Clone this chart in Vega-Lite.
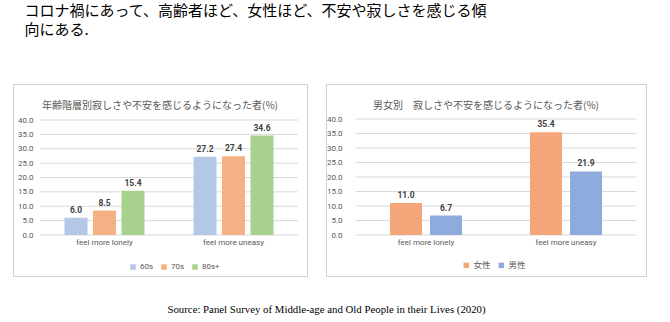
{
  "$schema": "https://vega.github.io/schema/vega-lite/v6.json",
  "background": "white",
  "padding": {"left": 12, "top": 3, "right": 0, "bottom": 0},
  "title": {
    "text": ["コロナ禍にあって、高齢者ほど、女性ほど、不安や寂しさを感じる傾", "向にある."],
    "anchor": "start", "dx": 12, "fontSize": 15, "lineHeight": 19,
    "font": "Noto Sans CJK JP", "fontWeight": "normal", "color": "#000000", "offset": 46
  },
  "config": {
    "view": {"stroke": "#d0d0d0"},
    "font": "Roboto"
  },
  "vconcat": [
    {
      "title": {
        "text": "Source: Panel Survey of Middle-age  and Old People in their Lives (2020)",
        "orient": "bottom", "anchor": "middle", "font": "Liberation Serif",
        "fontSize": 10.8, "fontWeight": "normal", "color": "#000000", "offset": 27, "dx": -3
      },
      "spacing": 17,
      "resolve": {"scale": {"color": "independent", "x": "independent", "y": "independent", "xOffset": "independent"}, "legend": {"color": "independent"}},
      "hconcat": [
        {
          "width": 294,
          "height": 192,
          "view": {"stroke": "#d0d0d0"},
          "title": {
            "text": "年齢階層別寂しさや不安を感じるようになった者(%)",
            "offset": -27, "fontSize": 10, "color": "#595959",
            "font": "Noto Sans CJK JP", "fontWeight": "normal", "anchor": "middle"
          },
          "layer": [
            {
              "data": {"values": [{"v": 0}, {"v": 5}, {"v": 10}, {"v": 15}, {"v": 20}, {"v": 25}, {"v": 30}, {"v": 35}, {"v": 40}]},
              "mark": {"type": "rule", "color": "#d9d9d9", "strokeWidth": 1},
              "encoding": {
                "y": {"field": "v", "type": "quantitative",
                  "scale": {"domain": [0, 40], "range": [151, 36], "nice": false, "zero": true},
                  "axis": {"values": [0, 5, 10, 15, 20, 25, 30, 35, 40], "format": ".1f", "offset": -20,
                    "domain": false, "ticks": false, "tickSize": 0, "grid": false, "labelPadding": 0,
                    "labelOverlap": false, "labelFontSize": 8, "labelColor": "#595959", "title": null}},
                "x": {"datum": "feel more lonely", "type": "nominal", "bandPosition": 0},
                "x2": {"datum": "feel more uneasy", "bandPosition": 1}
              }
            },
            {
              "data": {"values": [
                {"cat": "feel more lonely", "age": "60s", "v": 6.0},
                {"cat": "feel more lonely", "age": "70s", "v": 8.5},
                {"cat": "feel more lonely", "age": "80s+", "v": 15.4},
                {"cat": "feel more uneasy", "age": "60s", "v": 27.2},
                {"cat": "feel more uneasy", "age": "70s", "v": 27.4},
                {"cat": "feel more uneasy", "age": "80s+", "v": 34.6}
              ]},
              "encoding": {
                "x": {"field": "cat", "type": "nominal",
                  "scale": {"domain": ["feel more lonely", "feel more uneasy"], "paddingInner": 0, "paddingOuter": 0.1395, "align": 0.75},
                  "axis": {"title": null, "domain": false, "ticks": false, "tickSize": 0, "labelPadding": 0, "offset": -34,
                    "bandPosition": 0.5, "labelAlign": "center",
                    "labelAngle": 0, "labelFontSize": 8, "labelColor": "#595959"}},
                "xOffset": {"field": "age", "type": "nominal", "sort": ["60s", "70s", "80s+"],
                  "scale": {"paddingInner": 0.193, "paddingOuter": 0.86}},
                "y": {"field": "v", "type": "quantitative", "stack": null,
                  "axis": {"values": [0, 5, 10, 15, 20, 25, 30, 35, 40], "format": ".1f", "offset": -20,
                    "domain": false, "ticks": false, "tickSize": 0, "grid": false, "labelPadding": 0,
                    "labelOverlap": false, "labelFontSize": 8, "labelColor": "#595959", "title": null}}
              },
              "layer": [
                {
                  "mark": {"type": "bar"},
                  "encoding": {
                    "color": {"field": "age", "type": "nominal", "sort": ["60s", "70s", "80s+"],
                      "scale": {"domain": ["60s", "70s", "80s+"], "range": ["#b4c7e7", "#f4b183", "#a9d18e"]},
                      "legend": {"orient": "none", "legendX": 116, "legendY": 179, "direction": "horizontal",
                        "title": null, "symbolType": "square", "symbolSize": 30, "symbolStrokeWidth": 0,
                        "labelFontSize": 8, "labelColor": "#595959", "columnPadding": 6, "labelOffset": 3}}
                  }
                },
                {
                  "mark": {"type": "text", "baseline": "bottom", "dy": -3, "fontSize": 8.5, "fontWeight": "bold", "color": "#404040"},
                  "encoding": {"text": {"field": "v", "type": "quantitative", "format": ".1f"}}
                }
              ]
            }
          ]
        },
        {
          "width": 320,
          "height": 192,
          "view": {"stroke": "#d0d0d0"},
          "title": {
            "text": "男女別　寂しさや不安を感じるようになった者(%)",
            "offset": -27, "fontSize": 10, "color": "#595959",
            "font": "Noto Sans CJK JP", "fontWeight": "normal", "anchor": "middle"
          },
          "layer": [
            {
              "data": {"values": [{"v": 0}, {"v": 5}, {"v": 10}, {"v": 15}, {"v": 20}, {"v": 25}, {"v": 30}, {"v": 35}, {"v": 40}]},
              "mark": {"type": "rule", "color": "#d9d9d9", "strokeWidth": 1},
              "encoding": {
                "y": {"field": "v", "type": "quantitative",
                  "scale": {"domain": [0, 40], "range": [151, 35], "nice": false, "zero": true},
                  "axis": {"values": [0, 5, 10, 15, 20, 25, 30, 35, 40], "format": ".1f", "offset": -16,
                    "domain": false, "ticks": false, "tickSize": 0, "grid": false, "labelPadding": 0,
                    "labelOverlap": false, "labelFontSize": 8, "labelColor": "#595959", "title": null}},
                "x": {"datum": "feel more lonely", "type": "nominal", "bandPosition": 0},
                "x2": {"datum": "feel more uneasy", "bandPosition": 1}
              }
            },
            {
              "data": {"values": [
                {"cat": "feel more lonely", "sex": "女性", "v": 11.0},
                {"cat": "feel more lonely", "sex": "男性", "v": 6.7},
                {"cat": "feel more uneasy", "sex": "女性", "v": 35.4},
                {"cat": "feel more uneasy", "sex": "男性", "v": 21.9}
              ]},
              "encoding": {
                "x": {"field": "cat", "type": "nominal",
                  "scale": {"domain": ["feel more lonely", "feel more uneasy"], "paddingInner": 0, "paddingOuter": 0.1429, "align": 0.75},
                  "axis": {"title": null, "domain": false, "ticks": false, "tickSize": 0, "labelPadding": 0, "offset": -34,
                    "bandPosition": 0.5, "labelAlign": "center",
                    "labelAngle": 0, "labelFontSize": 8, "labelColor": "#595959"}},
                "xOffset": {"field": "sex", "type": "nominal", "sort": ["女性", "男性"],
                  "scale": {"paddingInner": 0.2, "paddingOuter": 0.85}},
                "y": {"field": "v", "type": "quantitative", "stack": null,
                  "axis": {"values": [0, 5, 10, 15, 20, 25, 30, 35, 40], "format": ".1f", "offset": -16,
                    "domain": false, "ticks": false, "tickSize": 0, "grid": false, "labelPadding": 0,
                    "labelOverlap": false, "labelFontSize": 8, "labelColor": "#595959", "title": null}}
              },
              "layer": [
                {
                  "mark": {"type": "bar"},
                  "encoding": {
                    "color": {"field": "sex", "type": "nominal", "sort": ["女性", "男性"],
                      "scale": {"domain": ["女性", "男性"], "range": ["#f4a57a", "#8faadc"]},
                      "legend": {"orient": "none", "legendX": 136, "legendY": 177, "direction": "horizontal",
                        "title": null, "symbolType": "square", "symbolSize": 30, "symbolStrokeWidth": 0,
                        "labelFontSize": 8.5, "labelFont": "Noto Sans CJK JP", "labelColor": "#595959", "columnPadding": 6, "labelOffset": 3}}
                  }
                },
                {
                  "mark": {"type": "text", "baseline": "bottom", "dy": -3, "fontSize": 8.5, "fontWeight": "bold", "color": "#404040"},
                  "encoding": {"text": {"field": "v", "type": "quantitative", "format": ".1f"}}
                }
              ]
            }
          ]
        }
      ]
    }
  ]
}
